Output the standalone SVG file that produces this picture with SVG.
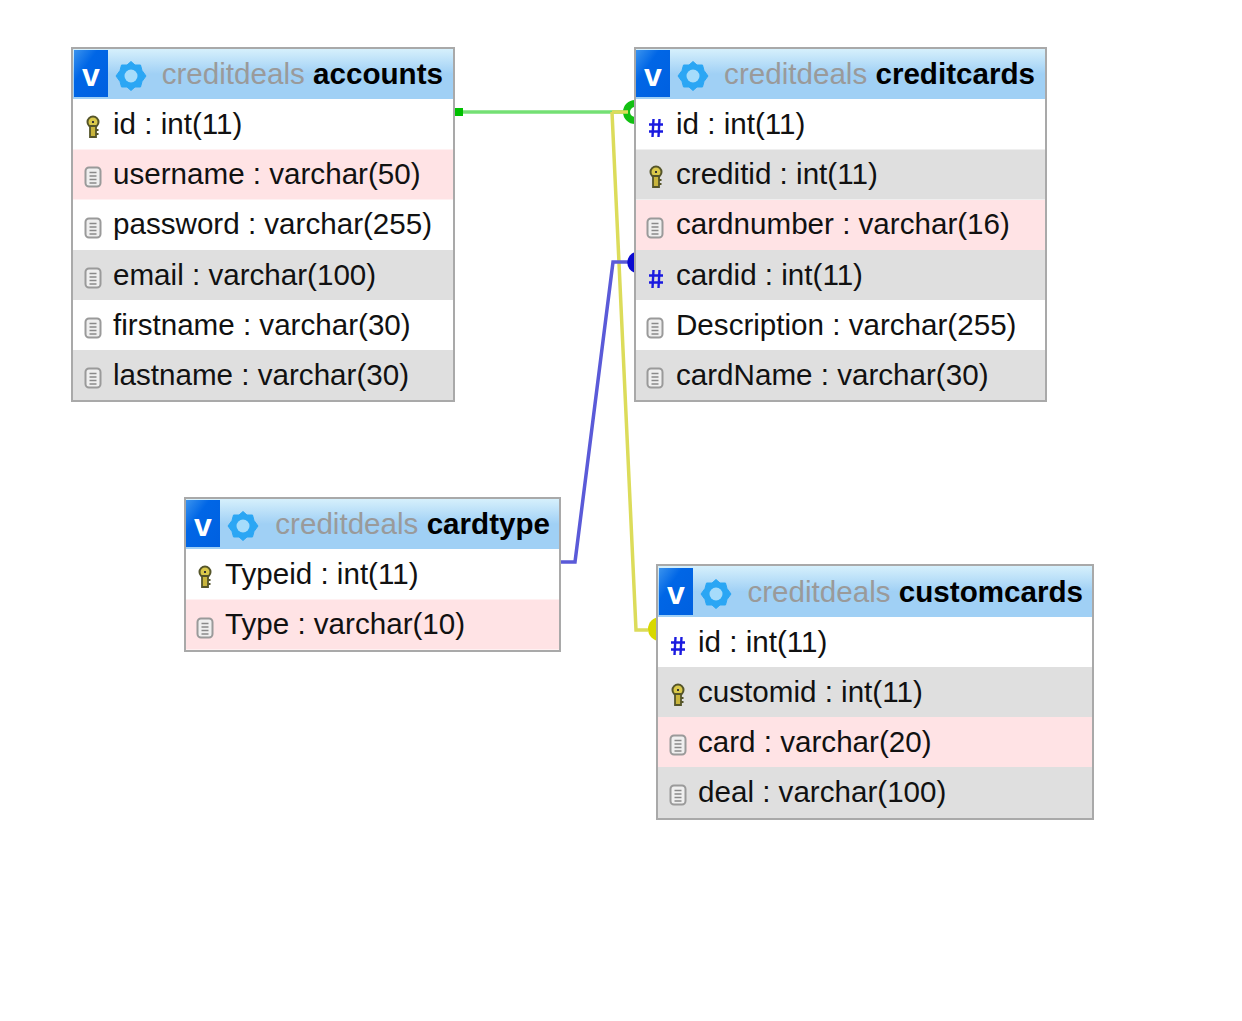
<svg xmlns="http://www.w3.org/2000/svg" width="1242" height="1021" viewBox="0 0 1242 1021">
<style>
.frame{fill:#fff;stroke:#a9a9a9;stroke-width:2}
.pink{fill:#ffe3e5}.grey{fill:#dfdfdf}
.t{font-family:"Liberation Sans",Arial,sans-serif;font-size:29.6px;fill:#111}
.h{font-family:"Liberation Sans",Arial,sans-serif;font-size:29.6px;font-weight:700;fill:#000;text-anchor:end}
.db{font-weight:400;fill:#9a9a9a}
.vt{font-family:"Liberation Sans",Arial,sans-serif;font-size:32px;font-weight:700;fill:#fff;text-anchor:middle}
.conn{fill:none;stroke-width:3.500}
</style>
<defs>
<linearGradient id="hg" x1="0" y1="0" x2="0" y2="1"><stop offset="0" stop-color="#d6f0fc"/><stop offset=".5" stop-color="#a0d0f5"/><stop offset="1" stop-color="#a0d0f5"/></linearGradient>
<linearGradient id="vg" x1="0" y1="0" x2="1" y2="1"><stop offset="0" stop-color="#3a93ee"/><stop offset=".35" stop-color="#0066e6"/><stop offset="1" stop-color="#0060e0"/></linearGradient>
<g id="vicon"><rect x="0" y="0" width="34" height="47" fill="url(#vg)"/></g>
<g id="gear"><path d="M0-14.500 4-11 9.500-11 11-5.500 15 0 11 5.500 9.500 11 4 11 0 14.500-4 11-9.500 11-11 5.500-15 0-11-5.500-9.500-11-4-11Z" fill="#2ba6f4" stroke="#2ba6f4" stroke-width="1" stroke-linejoin="round"/><circle r="6.500" fill="#a6dcfb"/></g>
<g id="key"><circle cx="0" cy="-5" r="5.500" fill="#d9c84a" stroke="#55552a" stroke-width="2"/><path d="M-3-1H3V10H-3Z" fill="#c9b53c" stroke="#55552a" stroke-width="1.800"/><path d="M-1-5H1" stroke="#333" stroke-width="2"/><path d="M3 3H5.500M3 7H5.500" stroke="#55552a" stroke-width="2"/></g>
<g id="doc"><rect x="-7.500" y="-9.500" width="15" height="19" rx="3.500" fill="#efefef" stroke="#9a9a9a" stroke-width="2"/><path d="M-3.500-4.500H3.500M-3.500-1H3.500M-3.500 2.500H3.500M-3.500 6H3.500" stroke="#8a8a8a" stroke-width="1.300"/></g>
<g id="hash"><path d="M-2.500-9-3.500 9M3.500-9 2.500 9M-7-3.500H7M-7 3.500H7" fill="none" stroke="#1a1ae0" stroke-width="2.400"/></g>
</defs>
<rect width="1242" height="1021" fill="#fff"/>
<g id="connectors">
<path class="conn" stroke="#74e074" d="M458 112H628"/>
<rect x="454" y="108" width="9" height="8" fill="#00c000"/>
<path d="M635 100A12 12 0 0 0 635 124L635 117A5 5 0 0 1 635 107Z" fill="#12c012"/>
<path class="conn" stroke="#dcdc5a" d="M612 112H628M612 112 636 630H648"/>
<circle cx="660" cy="629" r="12" fill="#d8d800"/>
<path class="conn" stroke="#5a5ad8" d="M561 562H575L613 262H628"/>
<path d="M635 252A11 11 0 0 0 635 273Z" fill="#0a0ad0"/>
</g>
<g id="accounts">
<rect class="frame" x="72" y="48" width="382" height="353"/>
<rect x="73" y="49" width="380" height="50" fill="url(#hg)"/>
<rect class="pink" x="73" y="149.500" width="380" height="50"/>
<rect class="grey" x="73" y="250" width="380" height="50"/>
<rect class="grey" x="73" y="350" width="380" height="50"/>
<use href="#vicon" x="74" y="50"/><text class="vt" x="91" y="86">v</text>
<use href="#gear" x="131" y="76"/>
<text class="h" x="443" y="84"><tspan class="db">creditdeals</tspan> accounts</text>
<use href="#key" x="93" y="127"/><text class="t" x="113" y="134">id : int(11)</text>
<use href="#doc" x="93" y="177"/><text class="t" x="113" y="184">username : varchar(50)</text>
<use href="#doc" x="93" y="228"/><text class="t" x="113" y="234">password : varchar(255)</text>
<use href="#doc" x="93" y="278"/><text class="t" x="113" y="285">email : varchar(100)</text>
<use href="#doc" x="93" y="328"/><text class="t" x="113" y="335">firstname : varchar(30)</text>
<use href="#doc" x="93" y="378"/><text class="t" x="113" y="385">lastname : varchar(30)</text>
</g>
<g id="creditcards">
<rect class="frame" x="635" y="48" width="411" height="353"/>
<rect x="636" y="49" width="409" height="50" fill="url(#hg)"/>
<rect class="grey" x="636" y="149.500" width="409" height="50"/>
<rect class="pink" x="636" y="200" width="409" height="50"/>
<rect class="grey" x="636" y="250" width="409" height="50"/>
<rect class="grey" x="636" y="350" width="409" height="50"/>
<use href="#vicon" x="636" y="50"/><text class="vt" x="653" y="86">v</text>
<use href="#gear" x="693" y="76"/>
<text class="h" x="1035" y="84"><tspan class="db">creditdeals</tspan> creditcards</text>
<use href="#hash" x="656" y="128"/><text class="t" x="676" y="134">id : int(11)</text>
<use href="#key" x="656" y="177"/><text class="t" x="676" y="184">creditid : int(11)</text>
<use href="#doc" x="655" y="228"/><text class="t" x="676" y="234">cardnumber : varchar(16)</text>
<use href="#hash" x="656" y="279"/><text class="t" x="676" y="285">cardid : int(11)</text>
<use href="#doc" x="655" y="328"/><text class="t" x="676" y="335">Description : varchar(255)</text>
<use href="#doc" x="655" y="378"/><text class="t" x="676" y="385">cardName : varchar(30)</text>
</g>
<g id="cardtype">
<rect class="frame" x="185" y="498" width="375" height="153"/>
<rect x="186" y="499" width="373" height="50" fill="url(#hg)"/>
<rect class="pink" x="186" y="599.500" width="373" height="50"/>
<use href="#vicon" x="186" y="500"/><text class="vt" x="203" y="536">v</text>
<use href="#gear" x="243" y="526"/>
<text class="h" x="550" y="534"><tspan class="db">creditdeals</tspan> cardtype</text>
<use href="#key" x="205" y="577"/><text class="t" x="225" y="584">Typeid : int(11)</text>
<use href="#doc" x="205" y="628"/><text class="t" x="225" y="634">Type : varchar(10)</text>
</g>
<g id="customcards">
<rect class="frame" x="657" y="565" width="436" height="254"/>
<rect x="658" y="566" width="434" height="51" fill="url(#hg)"/>
<rect class="grey" x="658" y="667" width="434" height="50"/>
<rect class="pink" x="658" y="717" width="434" height="50"/>
<rect class="grey" x="658" y="767" width="434" height="51"/>
<use href="#vicon" x="659" y="568"/><text class="vt" x="676" y="604">v</text>
<use href="#gear" x="716" y="594"/>
<text class="h" x="1083" y="602"><tspan class="db">creditdeals</tspan> customcards</text>
<use href="#hash" x="678" y="646"/><text class="t" x="698" y="652">id : int(11)</text>
<use href="#key" x="678" y="695"/><text class="t" x="698" y="702">customid : int(11)</text>
<use href="#doc" x="678" y="745"/><text class="t" x="698" y="752">card : varchar(20)</text>
<use href="#doc" x="678" y="795"/><text class="t" x="698" y="802">deal : varchar(100)</text>
</g>
</svg>
